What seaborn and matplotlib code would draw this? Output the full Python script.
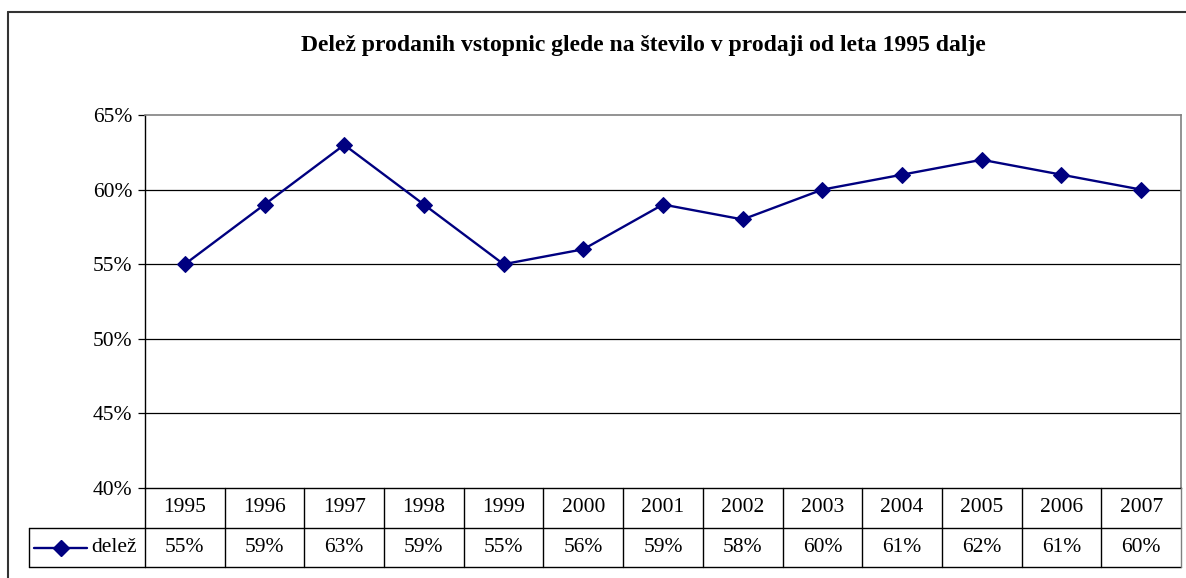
import matplotlib
matplotlib.use("Agg")
import matplotlib.pyplot as plt
import matplotlib.lines as mlines
import matplotlib.transforms as mtransforms
import seaborn as sns
import pandas as pd
from matplotlib.ticker import FuncFormatter

years = ["1995", "1996", "1997", "1998", "1999", "2000", "2001",
         "2002", "2003", "2004", "2005", "2006", "2007"]
delez = [0.55, 0.59, 0.63, 0.59, 0.55, 0.56, 0.59, 0.58, 0.60, 0.61, 0.62, 0.61, 0.60]
value_labels = ["55%", "59%", "63%", "59%", "55%", "56%", "59%", "58%", "60%", "61%", "62%", "61%", "60%"]
series_name = "delež"
title = "Delež prodanih vstopnic glede na število v prodaji od leta 1995 dalje"
yticks = [0.40, 0.45, 0.50, 0.55, 0.60, 0.65]

sns.set_theme(style="white")
plt.rcParams["font.family"] = ["Liberation Serif", "DejaVu Serif"]
plt.rcParams["text.color"] = "black"
plt.rcParams["ytick.labelcolor"] = "black"
plt.rcParams["ytick.color"] = "black"

W, H = 1186, 578
fig = plt.figure(figsize=(W / 100, H / 100), dpi=100)
fig.patch.set_facecolor("white")

L, R, T, B = 145, 1181, 115, 488
ax = fig.add_axes([L / W, 1 - B / H, (R - L) / W, (B - T) / H])

df = pd.DataFrame({"idx": range(len(years)), "val": delez})
navy = "#000080"
sns.lineplot(data=df, x="idx", y="val", ax=ax, color=navy, linewidth=1.7,
             marker="D", markersize=8, markeredgecolor=navy, markerfacecolor=navy)

ax.set_xlim(-0.5, len(years) - 0.5)
ax.set_ylim(0.40, 0.65)
ax.set_yticks(yticks)
ax.yaxis.set_major_formatter(FuncFormatter(lambda v, p: f"{round(v * 100):d}%"))
ax.set_xticks([])
ax.set_xlabel("")
ax.set_ylabel("")
for y in yticks[1:-1]:
    ax.axhline(y, color="black", linewidth=0.9, zorder=0)
ax.tick_params(axis="y", direction="out", length=5, width=0.9, color="black",
               labelcolor="black", labelsize=15.5, pad=4, left=True)
for s in ["top", "right"]:
    ax.spines[s].set_color("#808080")
    ax.spines[s].set_linewidth(1.2)
for s in ["left", "bottom"]:
    ax.spines[s].set_color("black")
    ax.spines[s].set_linewidth(1.0)

fig.text(643 / W, 1 - 45 / H, title, ha="center", va="center",
         fontsize=17, fontweight="bold", color="black")

# data table below axes
trans = mtransforms.blended_transform_factory(ax.transData, fig.transFigure)
row1_top = 1 - 488 / H
row1_bot = 1 - 528 / H
row2_bot = 1 - 567 / H
n = len(years)
lw = 1.0
for yy in [row1_bot, row2_bot]:
    fig.add_artist(mlines.Line2D([-0.5, n - 0.5], [yy, yy], transform=trans, color="black", lw=lw))
for i in range(n + 1):
    x = i - 0.5
    c = "#808080" if i == n else "black"
    fig.add_artist(mlines.Line2D([x, x], [row1_top, row2_bot], transform=trans, color=c, lw=lw))
for i, (yr, vl) in enumerate(zip(years, value_labels)):
    fig.text(i, (row1_top + row1_bot) / 2, yr, transform=trans, ha="center", va="center",
             fontsize=15.5, color="black")
    fig.text(i, (row1_bot + row2_bot) / 2, vl, transform=trans, ha="center", va="center",
             fontsize=15.5, color="black")

# legend cell on left of value row
x0 = 29 / W
fig.add_artist(mlines.Line2D([x0, L / W], [row1_bot, row1_bot], transform=fig.transFigure, color="black", lw=lw))
fig.add_artist(mlines.Line2D([x0, L / W], [row2_bot, row2_bot], transform=fig.transFigure, color="black", lw=lw))
fig.add_artist(mlines.Line2D([x0, x0], [row1_bot, row2_bot], transform=fig.transFigure, color="black", lw=lw))
ymid = (row1_bot + row2_bot) / 2
fig.add_artist(mlines.Line2D([34 / W, 87 / W], [ymid, ymid], transform=fig.transFigure, color=navy, lw=1.7))
fig.add_artist(mlines.Line2D([60.5 / W], [ymid], transform=fig.transFigure, color=navy,
                             marker="D", markersize=8, linestyle="none"))
fig.text(91 / W, ymid, series_name, ha="left", va="center", fontsize=15.5, color="black")

# outer chart border (top and left visible)
bx, by = 8 / W, 1 - 12 / H
fig.add_artist(mlines.Line2D([bx, 1], [by, by], transform=fig.transFigure, color="#333333", lw=1.5))
fig.add_artist(mlines.Line2D([bx, bx], [0, by], transform=fig.transFigure, color="#333333", lw=1.5))

fig.savefig("out.png", dpi=100, facecolor="white")
